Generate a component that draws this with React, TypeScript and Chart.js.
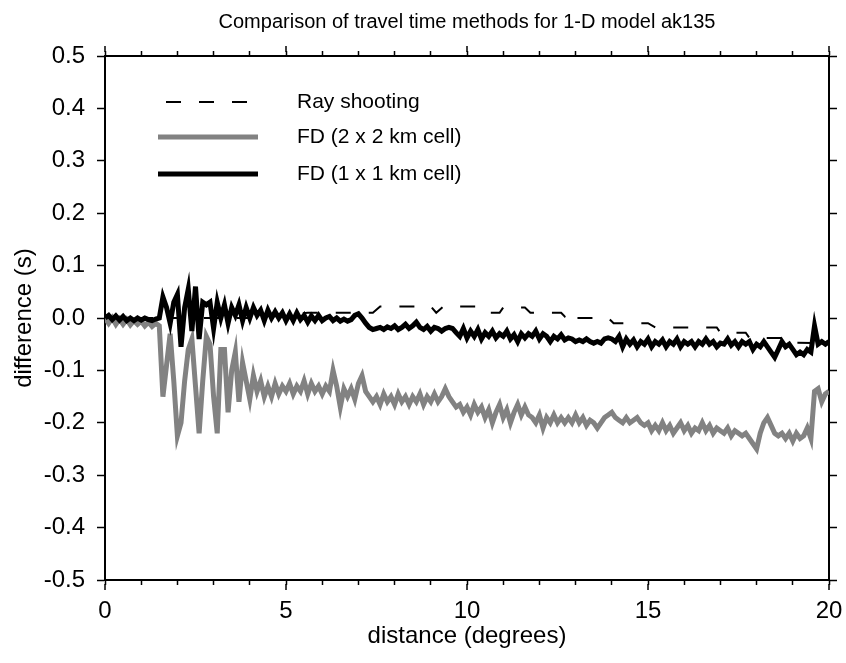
import React, { useEffect, useRef } from "react";
import { Chart, registerables } from "chart.js";

Chart.register(...registerables);

const TITLE = "Comparison of travel time methods for 1-D model ak135";
const X_LABEL = "distance (degrees)";
const Y_LABEL = "difference (s)";
const SERIES_NAMES = ["Ray shooting", "FD (2 x 2 km cell)", "FD (1 x 1 km cell)"];

// distances for the FD curves (0.0 .. 20.0 step 0.1)
const fdDist: number[] = Array.from({ length: 201 }, (_, i) => i / 10);

// FD 2 x 2 km cell (grey)
const fd2Diff: number[] = [
  0.0, -0.01, 0.0, -0.012, -0.002, -0.012, -0.003, -0.013, -0.005, -0.012,
  -0.006, -0.015, -0.008, -0.016, -0.01, -0.015, -0.15, -0.09, -0.03, -0.12,
  -0.225, -0.2, -0.12, -0.06, -0.04, -0.13, -0.22, -0.12, -0.035, -0.05,
  -0.15, -0.22, -0.06, -0.06, -0.18, -0.1, -0.065, -0.16, -0.085, -0.12,
  -0.155, -0.11, -0.14, -0.12, -0.15, -0.13, -0.15, -0.125, -0.145, -0.13,
  -0.14, -0.125, -0.145, -0.13, -0.14, -0.12, -0.145, -0.125, -0.14, -0.13,
  -0.145, -0.13, -0.14, -0.1, -0.13, -0.17, -0.135, -0.15, -0.135, -0.155,
  -0.125, -0.11, -0.14, -0.15, -0.16, -0.15, -0.165, -0.145, -0.16, -0.15,
  -0.165, -0.145, -0.16, -0.15, -0.165, -0.15, -0.16, -0.145, -0.165, -0.15,
  -0.16, -0.145, -0.16, -0.15, -0.135, -0.15, -0.16, -0.17, -0.165, -0.18,
  -0.17, -0.185, -0.165, -0.18, -0.17, -0.19, -0.175, -0.2, -0.18, -0.165,
  -0.19, -0.175, -0.2, -0.18, -0.165, -0.185, -0.17, -0.185, -0.19, -0.2,
  -0.185, -0.21, -0.19, -0.2, -0.185, -0.2, -0.19, -0.2, -0.19, -0.2,
  -0.185, -0.2, -0.19, -0.205, -0.195, -0.2, -0.21, -0.2, -0.19, -0.185,
  -0.18, -0.19, -0.195, -0.2, -0.19, -0.2, -0.195, -0.19, -0.2, -0.205,
  -0.2, -0.215, -0.205, -0.215, -0.2, -0.215, -0.205, -0.22, -0.21, -0.2,
  -0.215, -0.205, -0.22, -0.21, -0.215, -0.2, -0.215, -0.205, -0.22, -0.21,
  -0.215, -0.22, -0.21, -0.225, -0.215, -0.22, -0.225, -0.22, -0.23, -0.24,
  -0.25, -0.22, -0.2, -0.19, -0.205, -0.22, -0.225, -0.22, -0.23, -0.22,
  -0.235, -0.22, -0.23, -0.225, -0.21, -0.23, -0.14, -0.135, -0.16, -0.145,
  -0.14,
];

// FD 1 x 1 km cell (black)
const fd1Diff: number[] = [
  0.0, 0.005, -0.003, 0.004, -0.004, 0.003, -0.005, 0.0, -0.005, 0.0,
  -0.004, 0.0, -0.003, -0.005, -0.002, 0.0, 0.04, 0.02, -0.01, 0.03,
  0.045, -0.055, 0.02, 0.055, -0.025, 0.06, -0.04, 0.03, 0.025, 0.03,
  -0.02, 0.03, 0.0, 0.025, -0.01, 0.02, 0.005, 0.025, -0.005, 0.02,
  0.0, 0.02, 0.005, 0.015, -0.005, 0.015, 0.0, 0.012, 0.0, 0.01,
  -0.005, 0.008, -0.005, 0.01, -0.003, 0.005, -0.008, 0.004, -0.005, 0.005,
  -0.005, 0.0, 0.003, -0.005, 0.0, -0.006, -0.002, -0.006, -0.003, 0.005,
  0.008, 0.0, -0.01, -0.018, -0.022, -0.02, -0.018, -0.022, -0.017, -0.02,
  -0.015, -0.022, -0.018, -0.012, -0.02, -0.015, -0.008, -0.018, -0.022, -0.016,
  -0.025, -0.018, -0.02, -0.025, -0.02, -0.018, -0.02, -0.028, -0.035, -0.02,
  -0.038, -0.025, -0.035, -0.022, -0.04, -0.028, -0.035, -0.025, -0.038, -0.03,
  -0.035, -0.025, -0.04, -0.032, -0.045, -0.03, -0.038, -0.03, -0.035, -0.025,
  -0.04, -0.03, -0.035, -0.045, -0.035, -0.04, -0.032, -0.042, -0.038, -0.04,
  -0.045, -0.042, -0.045, -0.04, -0.045, -0.048, -0.045, -0.048, -0.04, -0.038,
  -0.04, -0.045, -0.035, -0.055, -0.04, -0.05, -0.042, -0.055, -0.045, -0.05,
  -0.04, -0.055, -0.045, -0.05, -0.042, -0.055, -0.045, -0.05, -0.04, -0.055,
  -0.045, -0.05, -0.045, -0.055, -0.045, -0.05, -0.04, -0.05, -0.045, -0.055,
  -0.048, -0.05, -0.04, -0.052, -0.045, -0.055, -0.045, -0.05, -0.045, -0.06,
  -0.05, -0.055, -0.045, -0.055, -0.065, -0.075, -0.06, -0.045, -0.055, -0.05,
  -0.06, -0.07, -0.065, -0.07, -0.06, -0.065, -0.015, -0.05, -0.045, -0.05,
  -0.045,
];

// Ray shooting (dashed)
const rayDist: number[] = [
  0, 1, 2, 3, 4, 5, 5.6, 7.4, 7.6, 9.0, 9.15, 9.35, 10.4, 10.6, 10.9, 11.0,
  11.6, 11.75, 12.6, 12.7, 12.8, 12.9, 13.9, 14.05, 15.0, 15.2, 16.9, 17.0,
  17.7, 17.8, 18.9, 19.0, 20.0,
];
const rayDiff: number[] = [
  0, 0, 0, 0, 0, 0.005, 0.01, 0.01, 0.022, 0.022, 0.01, 0.022, 0.022, 0.01, 0.01, 0.02,
  0.02, 0.01, 0.01, 0.003, 0.012, 0.0, 0.0, -0.01, -0.01, -0.018, -0.018, -0.028,
  -0.028, -0.038, -0.038, -0.047, -0.048,
];

const X_MIN = 0;
const X_MAX = 20;
const Y_MIN = -0.5;
const Y_MAX = 0.5;
const X_MAJOR = [0, 5, 10, 15, 20];

const FONT = "'Liberation Sans', Arial, Helvetica, sans-serif";
const GREY = "#828282";

export default function App() {
  const ref = useRef<HTMLCanvasElement | null>(null);

  useEffect(() => {
    if (!ref.current) return;

    const titleLegendPlugin = {
      id: "titleAndLegend",
      afterDraw(chart: any) {
        const ctx = chart.ctx;
        const area = chart.chartArea;
        ctx.save();
        // title
        ctx.fillStyle = "#000";
        ctx.font = "20px " + FONT;
        ctx.textAlign = "center";
        ctx.textBaseline = "middle";
        ctx.fillText(TITLE, (area.left + area.right) / 2, 22);
        // legend
        const rows = [
          { y: 102, color: "#000", width: 2, dash: [15, 18] },
          { y: 137, color: GREY, width: 5, dash: [] },
          { y: 174, color: "#000", width: 5, dash: [] },
        ];
        rows.forEach((r, i) => {
          ctx.beginPath();
          ctx.strokeStyle = r.color;
          ctx.lineWidth = r.width;
          ctx.setLineDash(r.dash);
          ctx.lineDashOffset = -8;
          ctx.moveTo(158, r.y);
          ctx.lineTo(258, r.y);
          ctx.stroke();
          ctx.setLineDash([]);
          ctx.fillStyle = "#000";
          ctx.font = "21px " + FONT;
          ctx.textBaseline = "middle";
          ctx.textAlign = "left";
          ctx.fillText(SERIES_NAMES[i], 297, r.y);
        });
        // longer major ticks on bottom and top x axes
        const xb = chart.scales.x;
        const xt = chart.scales.x2;
        ctx.strokeStyle = "#000";
        ctx.lineWidth = 1.5;
        X_MAJOR.forEach((v) => {
          const px = xb.getPixelForValue(v);
          ctx.beginPath();
          ctx.moveTo(px, area.bottom + 4);
          ctx.lineTo(px, area.bottom + 10);
          ctx.stroke();
          const pt = xt.getPixelForValue(v);
          ctx.beginPath();
          ctx.moveTo(pt, area.top - 4);
          ctx.lineTo(pt, area.top - 10);
          ctx.stroke();
        });
        ctx.restore();
      },
    };

    const fmtY = (v: any) => {
      const n = Number(v);
      if (Math.abs(n) < 1e-9) return "0.0";
      return n.toFixed(1);
    };

    const noPadH = (s: any, h: number) => {
      s.height = h;
      s.paddingLeft = 0;
      s.paddingRight = 0;
    };
    const noPadV = (s: any, w: number) => {
      s.width = w;
      s.paddingTop = 0;
      s.paddingBottom = 0;
    };

    const chart = new Chart(ref.current, {
      type: "line",
      data: {
        datasets: [
          {
            label: SERIES_NAMES[2],
            data: fdDist.map((d, i) => ({ x: d, y: fd1Diff[i] })),
            borderColor: "#000",
            borderWidth: 5,
            pointRadius: 0,
            tension: 0,
            borderJoinStyle: "miter",
            fill: false,
          },
          {
            label: SERIES_NAMES[1],
            data: fdDist.map((d, i) => ({ x: d, y: fd2Diff[i] })),
            borderColor: GREY,
            borderWidth: 5,
            pointRadius: 0,
            tension: 0,
            borderJoinStyle: "miter",
            fill: false,
          },
          {
            label: SERIES_NAMES[0],
            data: rayDist.map((d, i) => ({ x: d, y: rayDiff[i] })),
            borderColor: "#000",
            borderWidth: 2,
            borderDash: [15, 18],
            pointRadius: 0,
            tension: 0,
            fill: false,
          },
        ],
      },
      options: {
        animation: false,
        responsive: true,
        maintainAspectRatio: false,
        layout: { padding: 0, autoPadding: false },
        plugins: {
          legend: { display: false },
          tooltip: { enabled: false },
          title: { display: false },
        },
        scales: {
          x: {
            type: "linear",
            position: "bottom",
            min: X_MIN,
            max: X_MAX,
            afterFit: (s: any) => noPadH(s, 83),
            ticks: {
              stepSize: 1,
              autoSkip: false,
              maxRotation: 0,
              padding: 12,
              color: "#000",
              font: { family: FONT, size: 24 },
              callback: (v: any) => (Number(v) % 5 === 0 ? String(v) : ""),
            },
            grid: {
              drawOnChartArea: false,
              drawTicks: true,
              tickLength: 5,
              tickColor: "#000",
              tickWidth: 1.5,
            },
            border: { display: true, color: "#000", width: 2 },
            title: {
              display: true,
              text: X_LABEL,
              color: "#000",
              font: { family: FONT, size: 24 },
              padding: { top: 0, bottom: 12 },
            },
          },
          x2: {
            type: "linear",
            position: "top",
            min: X_MIN,
            max: X_MAX,
            afterFit: (s: any) => noPadH(s, 56),
            ticks: { stepSize: 1, autoSkip: false, display: false },
            grid: {
              drawOnChartArea: false,
              drawTicks: true,
              tickLength: 5,
              tickColor: "#000",
              tickWidth: 1.5,
            },
            border: { display: true, color: "#000", width: 2 },
          },
          y: {
            type: "linear",
            position: "left",
            min: Y_MIN,
            max: Y_MAX,
            afterFit: (s: any) => noPadV(s, 105),
            ticks: {
              stepSize: 0.1,
              padding: 12,
              color: "#000",
              font: { family: FONT, size: 24 },
              callback: fmtY,
            },
            grid: {
              drawOnChartArea: false,
              drawTicks: true,
              tickLength: 8,
              tickColor: "#000",
              tickWidth: 1.5,
            },
            border: { display: true, color: "#000", width: 2 },
            title: {
              display: true,
              text: Y_LABEL,
              color: "#000",
              font: { family: FONT, size: 24 },
              padding: { top: 10, bottom: 0 },
            },
          },
          y2: {
            type: "linear",
            position: "right",
            min: Y_MIN,
            max: Y_MAX,
            afterFit: (s: any) => noPadV(s, 17),
            ticks: { stepSize: 0.1, display: false },
            grid: {
              drawOnChartArea: false,
              drawTicks: true,
              tickLength: 8,
              tickColor: "#000",
              tickWidth: 1.5,
            },
            border: { display: true, color: "#000", width: 2 },
          },
        },
      },
      plugins: [titleLegendPlugin],
    } as any);

    return () => chart.destroy();
  }, []);

  return (
    <div style={{ position: "fixed", left: 0, top: 0, width: 846, height: 663 }}>
      <canvas ref={ref} />
    </div>
  );
}
